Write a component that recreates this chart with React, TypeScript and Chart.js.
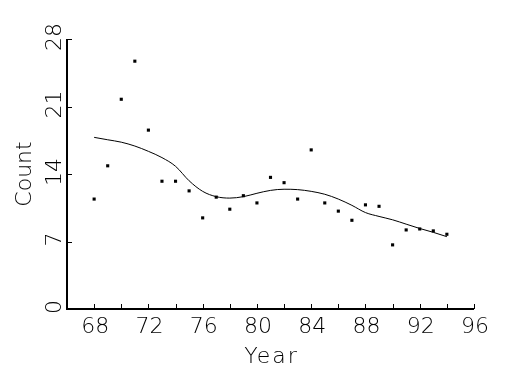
import React, { useEffect, useRef } from "react";
import { Chart, registerables } from "chart.js";

Chart.register(...registerables);

const years = [68, 69, 70, 71, 72, 73, 74, 75, 76, 77, 78, 79, 80, 81, 82, 83, 84, 85, 86, 87, 88, 89, 90, 91, 92, 93, 94];
const counts = [11.4, 14.85, 21.75, 25.7, 18.55, 13.25, 13.25, 12.25, 9.45, 11.6, 10.35, 11.75, 11.0, 13.65, 13.1, 11.4, 16.5, 11.0, 10.15, 9.2, 10.8, 10.65, 6.65, 8.2, 8.3, 8.1, 7.75];
const trend = [17.8, 17.55, 17.3, 16.9, 16.35, 15.7, 14.8, 13.3, 12.2, 11.65, 11.5, 11.65, 12.0, 12.3, 12.42, 12.38, 12.2, 11.9, 11.4, 10.75, 10.0, 9.6, 9.25, 8.8, 8.35, 7.95, 7.5];
const xTickMarks = [68, 70, 72, 74, 76, 78, 80, 82, 84, 86, 88, 90, 92, 94, 96];
const xTickLabels = [68, 72, 76, 80, 84, 88, 92, 96];
const yTickLabels = [0, 7, 14, 21, 28];

const FONT = '200 22px "DejaVu Sans"';

const axesPlugin = {
  id: "customAxes",
  afterDraw(chart: any) {
    const ctx = chart.ctx as CanvasRenderingContext2D;
    const xs = chart.scales.x;
    const ys = chart.scales.y;
    const x0 = xs.getPixelForValue(66);
    const x1 = xs.getPixelForValue(96);
    const y0 = ys.getPixelForValue(0);
    const y1 = ys.getPixelForValue(28);
    ctx.save();
    ctx.strokeStyle = "#000";
    ctx.fillStyle = "#000";
    // axis lines
    ctx.lineWidth = 2;
    ctx.beginPath();
    ctx.moveTo(x0, y1);
    ctx.lineTo(x0, y0);
    ctx.lineTo(x1, y0);
    ctx.stroke();
    // ticks
    ctx.lineWidth = 1;
    ctx.beginPath();
    for (const t of xTickMarks) {
      const px = Math.round(xs.getPixelForValue(t)) + 0.5;
      ctx.moveTo(px, y0);
      ctx.lineTo(px, y0 - 5);
    }
    for (const t of yTickLabels) {
      const py = Math.round(ys.getPixelForValue(t)) + 0.5;
      ctx.moveTo(x0, py);
      ctx.lineTo(x0 + 5, py);
    }
    ctx.stroke();
    // x labels
    ctx.font = FONT;
    ctx.textAlign = "center";
    ctx.textBaseline = "alphabetic";
    for (const t of xTickLabels) {
      ctx.fillText(String(t), xs.getPixelForValue(t) + 1, y0 + 24);
    }
    // x title
    (ctx as any).letterSpacing = "2px";
    ctx.fillText("Year", (x0 + x1) / 2 + 1, y0 + 54);
    (ctx as any).letterSpacing = "0px";
    // y labels (rotated)
    for (const t of yTickLabels) {
      ctx.save();
      ctx.translate(x0 - 6, ys.getPixelForValue(t) - 2);
      ctx.rotate(-Math.PI / 2);
      ctx.textAlign = "center";
      ctx.textBaseline = "alphabetic";
      ctx.fillText(String(t), 0, 0);
      ctx.restore();
    }
    // y title
    ctx.save();
    ctx.translate(x0 - 36, (y0 + y1) / 2);
    ctx.rotate(-Math.PI / 2);
    ctx.textAlign = "center";
    ctx.textBaseline = "alphabetic";
    ctx.fillText("Count", 0, 0);
    ctx.restore();
    ctx.restore();
  },
};

export default function App() {
  const ref = useRef<HTMLCanvasElement | null>(null);
  useEffect(() => {
    if (!ref.current) return;
    const chart = new Chart(ref.current, {
      type: "scatter",
      data: {
        datasets: [
          {
            label: "Count",
            data: years.map((y, i) => ({ x: y, y: counts[i] })),
            pointStyle: "rect",
            pointRadius: 2.2,
            pointBorderWidth: 0,
            backgroundColor: "#000",
            borderColor: "#000",
            showLine: false,
          },
          {
            label: "Trend",
            type: "line",
            data: years.map((y, i) => ({ x: y, y: trend[i] })),
            borderColor: "#000",
            borderWidth: 1,
            pointRadius: 0,
            fill: false,
            cubicInterpolationMode: "monotone",
          } as any,
        ],
      },
      options: {
        responsive: false,
        animation: false,
        layout: { padding: { left: 67, top: 39, right: 51, bottom: 66 } },
        plugins: { legend: { display: false }, tooltip: { enabled: false } },
        scales: {
          x: { type: "linear", min: 66, max: 96, display: false },
          y: { type: "linear", min: 0, max: 28, display: false },
        },
      },
      plugins: [axesPlugin],
    });
    return () => chart.destroy();
  }, []);
  return (
    <div style={{ position: "fixed", left: 0, top: 0, width: 525, height: 375, background: "#fff" }}>
      <canvas ref={ref} width={525} height={375} />
    </div>
  );
}
